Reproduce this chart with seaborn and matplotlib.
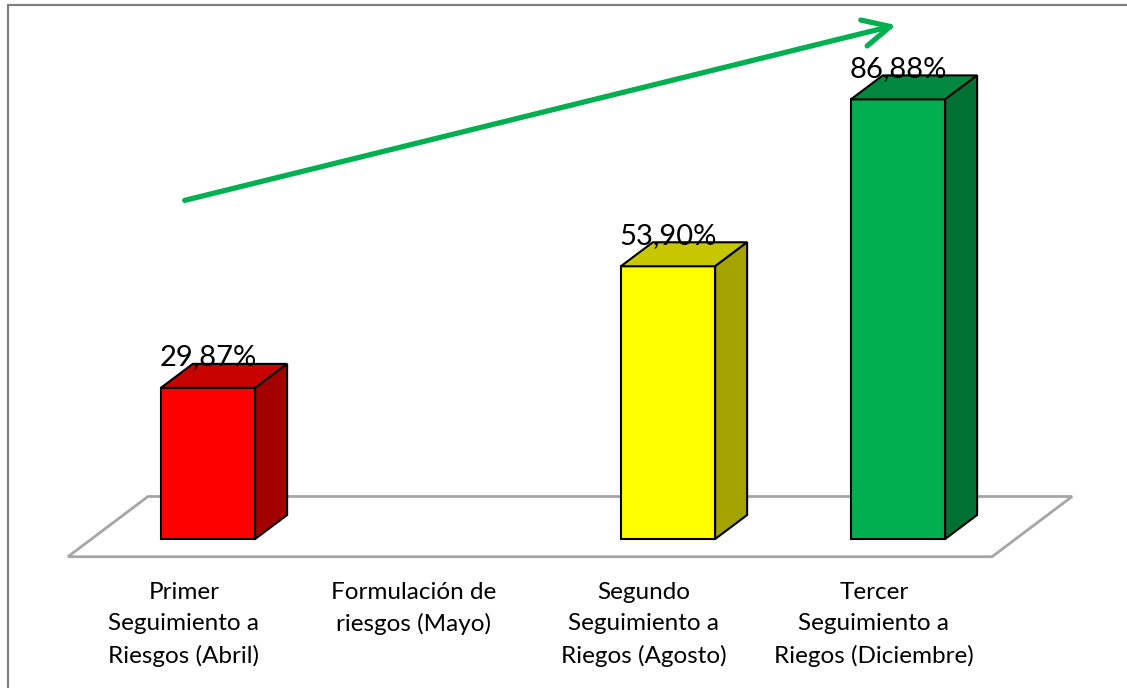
import numpy as np
import pandas as pd
import seaborn as sns
import matplotlib.pyplot as plt
from matplotlib.patches import Polygon
from matplotlib.lines import Line2D

# data
categories = ["Primer\nSeguimiento a\nRiesgos (Abril)",
              "Formulación de\nriesgos (Mayo)",
              "Segundo\nSeguimiento a\nRiegos (Agosto)",
              "Tercer\nSeguimiento a\nRiegos (Diciembre)"]
values = [29.87, np.nan, 53.90, 86.88]
value_labels = ["29,87%", "", "53,90%", "86,88%"]
bar_colors = ["#FF0000", "#FFFFFF", "#FFFF00", "#00B050"]

df = pd.DataFrame({"cat": categories, "val": values})

sns.set_style("white")
plt.rcParams['font.family'] = ['Lato', 'DejaVu Sans']

fig = plt.figure(figsize=(11.27, 6.88), dpi=100)
ax = fig.add_axes([0, 0, 1, 1])

sns.barplot(data=df.dropna(), x="cat", y="val", hue="cat", order=categories,
            hue_order=categories, palette=dict(zip(categories, bar_colors)),
            saturation=1, width=0.41, edgecolor="black", linewidth=1.5,
            legend=False, ax=ax, zorder=3)

# 1 category = 230 px, 1 % = 5.06 px
ax.set_xlim(-208 / 230, (1127 - 208) / 230)
ax.set_ylim((539 - 688) / 5.06, 539 / 5.06)
ax.axis("off")

# floor of the 3d chart
floor = Polygon([(-0.609, -3.5), (3.409, -3.5), (3.757, 8.4), (-0.261, 8.4)],
                closed=True, facecolor="white", edgecolor="#A6A6A6", lw=2, zorder=1)
ax.add_patch(floor)

# depth of the bars
dx, dy = 0.139, 4.74


def shade(c, f):
    r, g, b = plt.matplotlib.colors.to_rgb(c)
    return (r * f, g * f, b * f)


for p in ax.patches[:]:
    if p is floor:
        continue
    h = p.get_height()
    if not np.isfinite(h) or h == 0:
        continue
    x0 = p.get_x()
    x1 = x0 + p.get_width()
    c = p.get_facecolor()
    top = Polygon([(x0, h), (x1, h), (x1 + dx, h + dy), (x0 + dx, h + dy)],
                  closed=True, facecolor=shade(c, 0.78), edgecolor="black", lw=1.5, zorder=3)
    side = Polygon([(x1, 0), (x1 + dx, dy), (x1 + dx, h + dy), (x1, h)],
                   closed=True, facecolor=shade(c, 0.64), edgecolor="black", lw=1.5, zorder=3)
    ax.add_patch(top)
    ax.add_patch(side)

for i, (v, lab) in enumerate(zip(values, value_labels)):
    if np.isfinite(v):
        ax.text(i, v + dy - 0.3, lab, ha="center", va="baseline", fontsize=21,
                color="black", zorder=4)

for i, cat in enumerate(categories):
    ax.text(i - 0.105, -8.4, cat, ha="center", va="top", fontsize=17.5,
            linespacing=1.6, color="black")

# trend arrow
ax.annotate("", xy=(0.7975, 0.9645), xytext=(0.1615, 0.7078),
            xycoords="axes fraction", textcoords="axes fraction",
            arrowprops=dict(arrowstyle="->,head_length=0.65,head_width=0.32",
                            color="#00B050", lw=3.8, mutation_scale=30,
                            capstyle="round", joinstyle="round"))

# chart border (left and top edges visible)
fig.add_artist(Line2D([7.5 / 1127, 7.5 / 1127], [0, 1 - 5 / 688],
                      transform=fig.transFigure, color="#808080", lw=1.6))
fig.add_artist(Line2D([7.5 / 1127, 1], [1 - 5 / 688, 1 - 5 / 688],
                      transform=fig.transFigure, color="#808080", lw=1.6))

fig.savefig("out.png", dpi=100)
